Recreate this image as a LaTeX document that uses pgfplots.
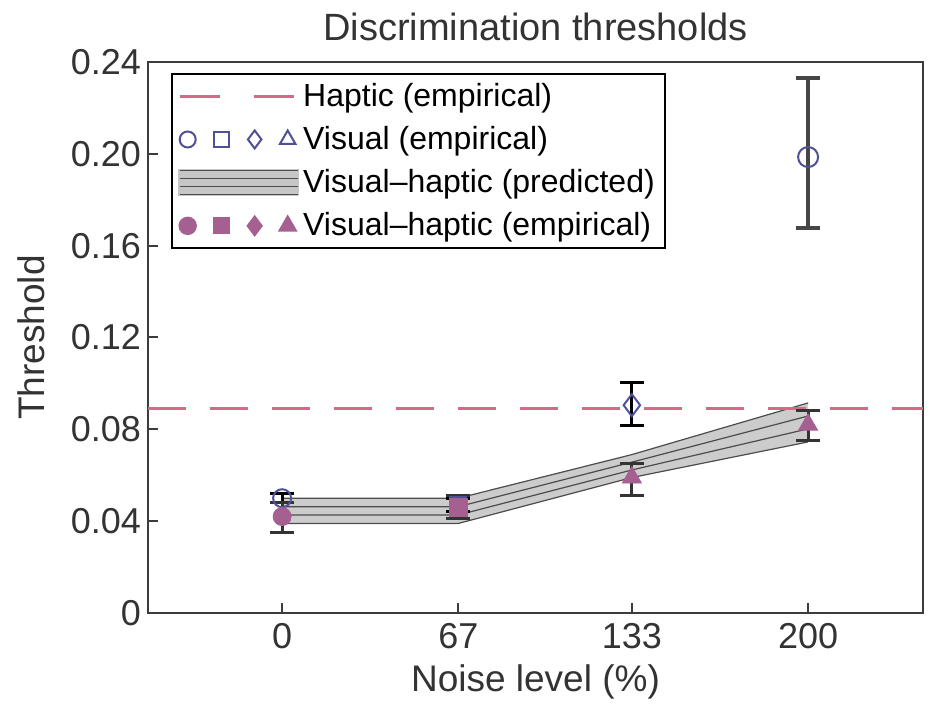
\documentclass[border=0pt]{standalone}
\usepackage{pgfplots}
\pgfplotsset{compat=1.18}
\usepackage{fontspec}
\setmainfont{Liberation Sans}
\usetikzlibrary{calc}
\definecolor{vhpurple}{RGB}{165,95,145}
\definecolor{vblue}{RGB}{80,80,150}
\definecolor{hapred}{RGB}{215,105,135}
\definecolor{axgray}{RGB}{60,60,60}
\begin{document}
\begin{tikzpicture}
\begin{axis}[
  name=ax,
  scale only axis,
  width=387.5pt, height=275.5pt,
  xmin=-51, xmax=243.7, ymin=0, ymax=0.24,
  axis line style={axgray, line width=1.2pt},
  xtick={0,67,133,200},
  ytick={0,0.04,0.08,0.12,0.16,0.20,0.24},
  yticklabels={0,0.04,0.08,0.12,0.16,0.20,0.24},
  xtick pos=bottom, ytick pos=left,
  tick align=inside,
  major tick length=5pt,
  tick style={axgray, line width=1pt},
  /pgf/number format/assume math mode=true,
  tick label style={font=\fontsize{18}{21}\selectfont, text=black!80},
  xticklabel style={yshift=-1.5pt},
  xlabel={Noise level (\%)},
  ylabel={Threshold},
  label style={font=\fontsize{18.5}{22}\selectfont, text=black!80},
  xlabel style={yshift=-1pt},
  ylabel shift=6pt,
  title={Discrimination thresholds},
  title style={font=\fontsize{19}{22}\selectfont, text=black!80, yshift=1pt},
  legend style={at={(0,1)}, anchor=north west, xshift=11.5pt, yshift=-5.5pt,
    draw=black, line width=1.2pt, font=\fontsize{16}{19}\selectfont,
    cells={anchor=west}, row sep=4.5pt, inner xsep=3pt, inner ysep=2.5pt},
  legend cell align=left,
  vstyle/.style={only marks, vblue, line width=1pt, forget plot,
    error bars/y dir=both, error bars/y explicit,
    error bars/error bar style={line width=1.5pt, black},
    error bars/error mark options={rotate=90, mark size=6pt, line width=1.5pt, black}},
  vhstyle/.style={only marks, vhpurple, forget plot,
    mark options={fill=vhpurple, draw=vhpurple},
    error bars/y dir=both, error bars/y explicit,
    error bars/error bar style={line width=1.5pt, black!80},
    error bars/error mark options={rotate=90, mark size=6pt, line width=1.5pt, black!80}},
]
% legend images
\addlegendimage{legend image code/.code={
  \draw[hapred, line width=1.5pt, dash pattern=on 20pt off 17pt] (0pt,0) -- (59pt,0);}}
\addlegendentry{Haptic (empirical)}
\addlegendimage{legend image code/.code={
  \draw[vblue, line width=1pt] plot[mark=o, mark size=4pt] coordinates {(4pt,0)};
  \draw[vblue, line width=1pt] plot[mark=square, mark size=3.6pt] coordinates {(21pt,0)};
  \draw[vblue, line width=1pt] plot[mark=diamond, mark size=4.5pt] coordinates {(37.5pt,0)};
  \draw[vblue, line width=1pt] plot[mark=triangle, mark size=4.5pt] coordinates {(54pt,0)};}}
\addlegendentry{Visual (empirical)}
\addlegendimage{legend image code/.code={
  \fill[gray!45] (0pt,-6pt) rectangle (59pt,6pt);
  \foreach \yy in {-6,-2,2,6} {\draw[gray!60!black, line width=0.6pt] (0pt,\yy pt) -- (59pt,\yy pt);}}}
\addlegendentry{Visual--haptic (predicted)}
\addlegendimage{legend image code/.code={
  \draw[vhpurple] plot[mark=*, mark size=4pt] coordinates {(4pt,0)};
  \draw[vhpurple] plot[mark=square*, mark size=3.6pt] coordinates {(21pt,0)};
  \draw[vhpurple] plot[mark=diamond*, mark size=4.5pt] coordinates {(37.5pt,0)};
  \draw[vhpurple] plot[mark=triangle*, mark size=4.5pt] coordinates {(54pt,0)};}}
\addlegendentry{Visual--haptic (empirical)}

% predicted band
\addplot[fill=gray!40, draw=none, forget plot] coordinates {
  (0,0.039) (67,0.039) (133,0.059) (200,0.0745)
  (200,0.0915) (133,0.069) (67,0.050) (0,0.050)} -- cycle;
\addplot[gray!60!black, line width=0.6pt, forget plot] coordinates {(0,0.039) (67,0.039) (133,0.059) (200,0.0745)};
\addplot[gray!60!black, line width=0.6pt, forget plot] coordinates {(0,0.0427) (67,0.0427) (133,0.0623) (200,0.0802)};
\addplot[gray!60!black, line width=0.6pt, forget plot] coordinates {(0,0.0463) (67,0.0463) (133,0.0657) (200,0.0858)};
\addplot[gray!60!black, line width=0.6pt, forget plot] coordinates {(0,0.050) (67,0.050) (133,0.069) (200,0.0915)};

% haptic empirical
\addplot[hapred, line width=1.5pt, dash pattern=on 19pt off 12pt, forget plot] coordinates {(-51,0.089) (243.7,0.089)};

% visual empirical
\addplot[vstyle, mark=square, mark size=4pt] coordinates {(67,0.047) += (0,0.003) -= (0,0.003)};
\addplot[vstyle, mark=o, mark size=4.5pt] coordinates {(0,0.050) += (0,0.002) -= (0,0.002)};
\addplot[vstyle, mark=diamond, mark size=5.5pt] coordinates {(133,0.0905) += (0,0.010) -= (0,0.009)};
\addplot[only marks, vblue, line width=1pt, forget plot, mark=o, mark size=5pt,
  error bars/y dir=both, error bars/y explicit,
  error bars/error bar style={line width=2pt, gray!55!black},
  error bars/error mark options={rotate=90, mark size=6pt, line width=2pt, gray!55!black}]
  coordinates {(200,0.1986) += (0,0.0344) -= (0,0.0309)};

% visual-haptic empirical
\addplot[vhstyle, mark=*, mark size=4.5pt] coordinates {(0,0.042) += (0,0.006) -= (0,0.007)};
\addplot[vhstyle, mark=square*, mark size=4.5pt] coordinates {(67,0.046) += (0,0.005) -= (0,0.005)};
\addplot[vhstyle, mark=triangle*, mark size=5.5pt] coordinates {(133,0.059) += (0,0.006) -= (0,0.008)};
\addplot[vhstyle, mark=triangle*, mark size=5.5pt] coordinates {(200,0.082) += (0,0.006) -= (0,0.007)};
\end{axis}
\pgfresetboundingbox
\path[use as bounding box] ($(ax.south west)+(-74pt,-46pt)$) rectangle ($(ax.north east)+(3.5pt,31pt)$);
\end{tikzpicture}
\end{document}
